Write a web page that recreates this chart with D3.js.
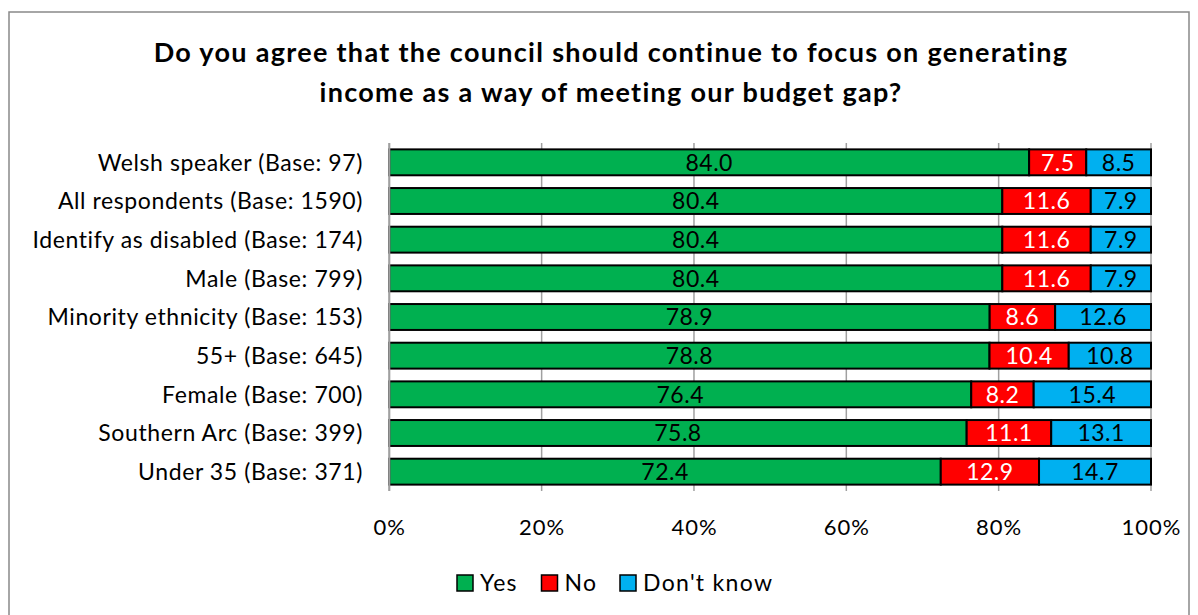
<!DOCTYPE html>
<html><head><meta charset="utf-8">
<script src="https://cdn.jsdelivr.net/npm/d3@7"></script>
<style>body{margin:0;background:#fff;} svg{display:block;font-family:Lato,"Open Sans",sans-serif;}</style>
</head><body>
<svg id="c" width="1198" height="615"></svg>
<script>
const categories = ["Welsh speaker (Base: 97)","All respondents (Base: 1590)","Identify as disabled (Base: 174)","Male (Base: 799)","Minority ethnicity (Base: 153)","55+ (Base: 645)","Female (Base: 700)","Southern Arc (Base: 399)","Under 35 (Base: 371)"];
const yes = [84.0,80.4,80.4,80.4,78.9,78.8,76.4,75.8,72.4];
const no = [7.5,11.6,11.6,11.6,8.6,10.4,8.2,11.1,12.9];
const dontKnow = [8.5,7.9,7.9,7.9,12.6,10.8,15.4,13.1,14.7];
const seriesNames = ["Yes","No","Don't know"];
const colors = ["#00B050","#FF0000","#00B0F0"];
const labelColors = ["#000","#fff","#000"];
const tickValues = [0,0.2,0.4,0.6,0.8,1.0];
const titleLines = ["Do you agree that the council should continue to focus on generating","income as a way of meeting our budget gap?"];

const svg = d3.select("#c");
svg.append("rect").attr("x",9).attr("y",12).attr("width",1180).attr("height",640)
  .attr("fill","#fff").attr("stroke","#898989").attr("stroke-width",1.5);

svg.selectAll("text.title").data(titleLines).join("text")
  .attr("x",611).attr("y",(d,i)=>62+i*40).attr("text-anchor","middle")
  .attr("font-size",27).attr("letter-spacing",1.3).attr("font-weight","bold").attr("fill","#000").text(d=>d);

const x = d3.scaleLinear().domain([0,1]).range([389.3,1151]);
const y = d3.scaleBand().domain(categories).range([143,491]).paddingInner(0.33).paddingOuter(0.165);

// gridlines
svg.append("g").selectAll("line").data(tickValues).join("line")
  .attr("x1",d=>x(d)).attr("x2",d=>x(d)).attr("y1",143).attr("y2",491)
  .attr("stroke","#A0A0A0").attr("stroke-width",1.5);

const rows = categories.map((c,i)=>{
  const vals=[yes[i],no[i],dontKnow[i]]; const tot=d3.sum(vals);
  let acc=0;
  return vals.map((v,k)=>{const s=acc/tot; acc+=v; return {cat:c,k,v,s,e:acc/tot};});
});
const segs = rows.flat();
svg.append("g").selectAll("rect").data(segs).join("rect")
  .attr("x",d=>x(d.s)).attr("width",d=>x(d.e)-x(d.s))
  .attr("y",d=>y(d.cat)).attr("height",y.bandwidth())
  .attr("fill",d=>colors[d.k]).attr("stroke","#000").attr("stroke-width",2);
svg.append("g").selectAll("text").data(segs).join("text")
  .attr("x",d=>(x(d.s)+x(d.e))/2).attr("y",d=>y(d.cat)+y.bandwidth()/2)
  .attr("dy","0.36em").attr("text-anchor","middle").attr("font-size",23).attr("letter-spacing",0.5)
  .attr("fill",d=>labelColors[d.k]).text(d=>d.v.toFixed(1));

// 0% axis line
svg.append("line").attr("x1",x(0)).attr("x2",x(0)).attr("y1",143).attr("y2",491)
  .attr("stroke","#A0A0A0").attr("stroke-width",2);

// category labels
svg.append("g").selectAll("text").data(categories).join("text")
  .attr("x",363).attr("y",d=>y(d)+y.bandwidth()/2).attr("dy","0.36em")
  .attr("text-anchor","end").attr("font-size",23).attr("letter-spacing",0.6).attr("fill","#000").text(d=>d);

// tick labels
svg.append("g").selectAll("text").data(tickValues).join("text")
  .attr("x",d=>x(d)+0.5).attr("y",527).attr("dy","0.36em").attr("text-anchor","middle")
  .attr("font-size",22).attr("letter-spacing",1).attr("fill","#000").text(d=>d3.format(".0%")(d));

// legend
const legX=[457,541.5,620];
const lg = svg.append("g").selectAll("g").data(seriesNames).join("g")
  .attr("transform",(d,i)=>`translate(${legX[i]},575)`);
lg.append("rect").attr("width",16).attr("height",16).attr("fill",(d,i)=>colors[i])
  .attr("stroke","#000").attr("stroke-width",1.5);
lg.append("text").attr("x",23).attr("y",8).attr("dy","0.36em").attr("font-size",23).attr("letter-spacing",1.3)
  .attr("fill","#000").text(d=>d);
</script>
</body></html>
